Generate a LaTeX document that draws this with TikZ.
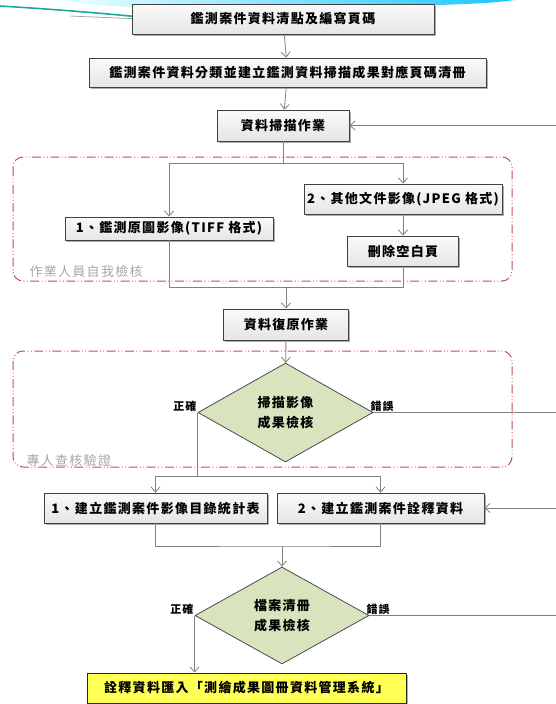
\documentclass[tikz,border=0pt]{standalone}
\usepackage{fontspec}
\setmainfont{Noto Sans CJK TC}[LetterSpace=10]
\usetikzlibrary{shapes.geometric, arrows.meta, shadows}
\definecolor{framered}{HTML}{C0504D}
\definecolor{checkgreen}{HTML}{D7E4BD}
\definecolor{importyellow}{HTML}{FFFF55}
\definecolor{swoosh}{HTML}{1BA89E}
\begin{document}
\begin{tikzpicture}[x=1pt, y=-1pt, font=\fontsize{13}{16}\selectfont\bfseries, line join=round, >={Straight Barb[length=5pt,width=9pt]},
	box/.style={draw=black!75, line width=.9pt, top color=black!2, bottom color=black!10, inner sep=0pt,
		drop shadow={shadow xshift=1.6pt, shadow yshift=-1.6pt, fill=black!45, opacity=.7}},
	check/.style={diamond, draw=black!70, line width=.8pt, fill=checkgreen, inner sep=0pt, align=center, font=\fontsize{13}{20}\selectfont\bfseries},
	link/.style={draw=black!50, line width=.8pt},
	group/.style={draw=framered, dash pattern=on 9pt off 2.5pt on .8pt off 2.5pt on .8pt off 2.5pt, rounded corners=10pt, line width=1pt},
	grouplabel/.style={text=black!35, anchor=west, font=\fontsize{13}{16}\selectfont},
	verdict/.style={inner sep=1pt, font=\fontsize{11}{13}\selectfont\bfseries}]
	\useasboundingbox (0,0) rectangle (556,704);
	% slide decoration
	\shade[left color=cyan!5, right color=cyan!75!blue!90] (55,0) .. controls (130,12) and (250,10) .. (440,5) .. controls (490,3) .. (515,0) -- cycle;
	\draw[swoosh, line width=1.6pt] (0,6) .. controls (50,9) and (100,13) .. (140,17);
	\draw[black!35, line width=.8pt] (70,16) -- (140,19);
	% check frames
	\draw[group] (13,157) rectangle (512,281);
	\draw[group] (13,351) rectangle (512,467);
	\node[grouplabel] (selfcheck) at (26,272) {作業人員自我檢核};
	\node[grouplabel] (review) at (23,460) {專人查核驗證};
	% steps
	\node[box, minimum width=302pt, minimum height=30pt] (clean) at (283,19) {鑑測案件資料清點及編寫頁碼};
	\node[box, minimum width=397pt, minimum height=29pt] (classify) at (287.5,72.5) {鑑測案件資料分類並建立鑑測資料掃描成果對應頁碼清冊};
	\node[box, minimum width=132pt, minimum height=31pt] (scan) at (283,125.5) {資料掃描作業};
	\node[box, minimum width=208pt, minimum height=23pt] (tiff) at (169,228.5) {1、鑑測原圖影像(TIFF 格式)};
	\node[box, minimum width=198pt, minimum height=30pt] (jpeg) at (403,199) {2、其他文件影像(JPEG 格式)};
	\node[box, minimum width=111pt, minimum height=30pt] (blank) at (403,251) {刪除空白頁};
	\node[box, minimum width=125pt, minimum height=31pt] (restore) at (286,324.5) {資料復原作業};
	\node[check, minimum width=175pt, minimum height=99pt] (check1) at (285.5,412.5) {掃描影像\\成果檢核};
	\node[box, minimum width=223pt, minimum height=30pt] (catalog) at (155.5,508) {1、建立鑑測案件影像目錄統計表};
	\node[box, minimum width=207pt, minimum height=30pt] (meta) at (380.5,508) {2、建立鑑測案件詮釋資料};
	\node[check, minimum width=174pt, minimum height=97pt] (check2) at (282,615.5) {檔案清冊\\成果檢核};
	\node[box, draw=black!85, top color=importyellow, bottom color=importyellow, minimum width=319pt, minimum height=30pt] (import) at (246.5,688) {詮釋資料匯入「測繪成果圖冊資料管理系統」};
	% verdicts
	\node[verdict, above left] (ok1) at (check1.west) {正確};
	\node[verdict, above right, xshift=-4pt] (err1) at (check1.east) {錯誤};
	\node[verdict, above left] (ok2) at (check2.west) {正確};
	\node[verdict, above right, xshift=-4pt] (err2) at (check2.east) {錯誤};
	% junctions
	\path (scan.south) ++(0,22) coordinate (split);
	\path (restore.north) ++(0,-21) coordinate (merge);
	\coordinate (fork) at (check1.west |- 0,476);
	\coordinate (join) at (check2.north |- 0,546);
	\coordinate (ret1) at (scan.east -| 556,0);
	\coordinate (out1) at (check1.east -| 556,0);
	\coordinate (ret2) at (meta.east -| 556,0);
	\coordinate (out2) at (check2.east -| 556,0);
	% connectors
	\draw[link,->] (clean) -- (classify);
	\draw[link,->] (classify) -- (scan);
	\draw[link] (scan) -- (split);
	\draw[link,->] (split) -| (tiff);
	\draw[link,->] (split) -| (jpeg);
	\draw[link,->] (jpeg) -- (blank);
	\draw[link] (tiff) |- (merge) -| (blank);
	\draw[link,->] (merge) -- (restore);
	\draw[link,->] (restore) -- (check1);
	\draw[link] (check1.west) -- (fork);
	\draw[link,->] (fork) -| (catalog);
	\draw[link,->] (fork) -| (meta);
	\draw[link] (catalog) |- (join) -| (meta);
	\draw[link,->] (join) -- (check2);
	\draw[link,->] (check2.west) -- (check2.west |- import.north);
	\draw[link] (check1.east) -- (out1);
	\draw[link,->] (ret1) -- (scan);
	\draw[link] (check2.east) -- (out2);
	\draw[link,->] (ret2) -- (meta);
\end{tikzpicture}
\end{document}
